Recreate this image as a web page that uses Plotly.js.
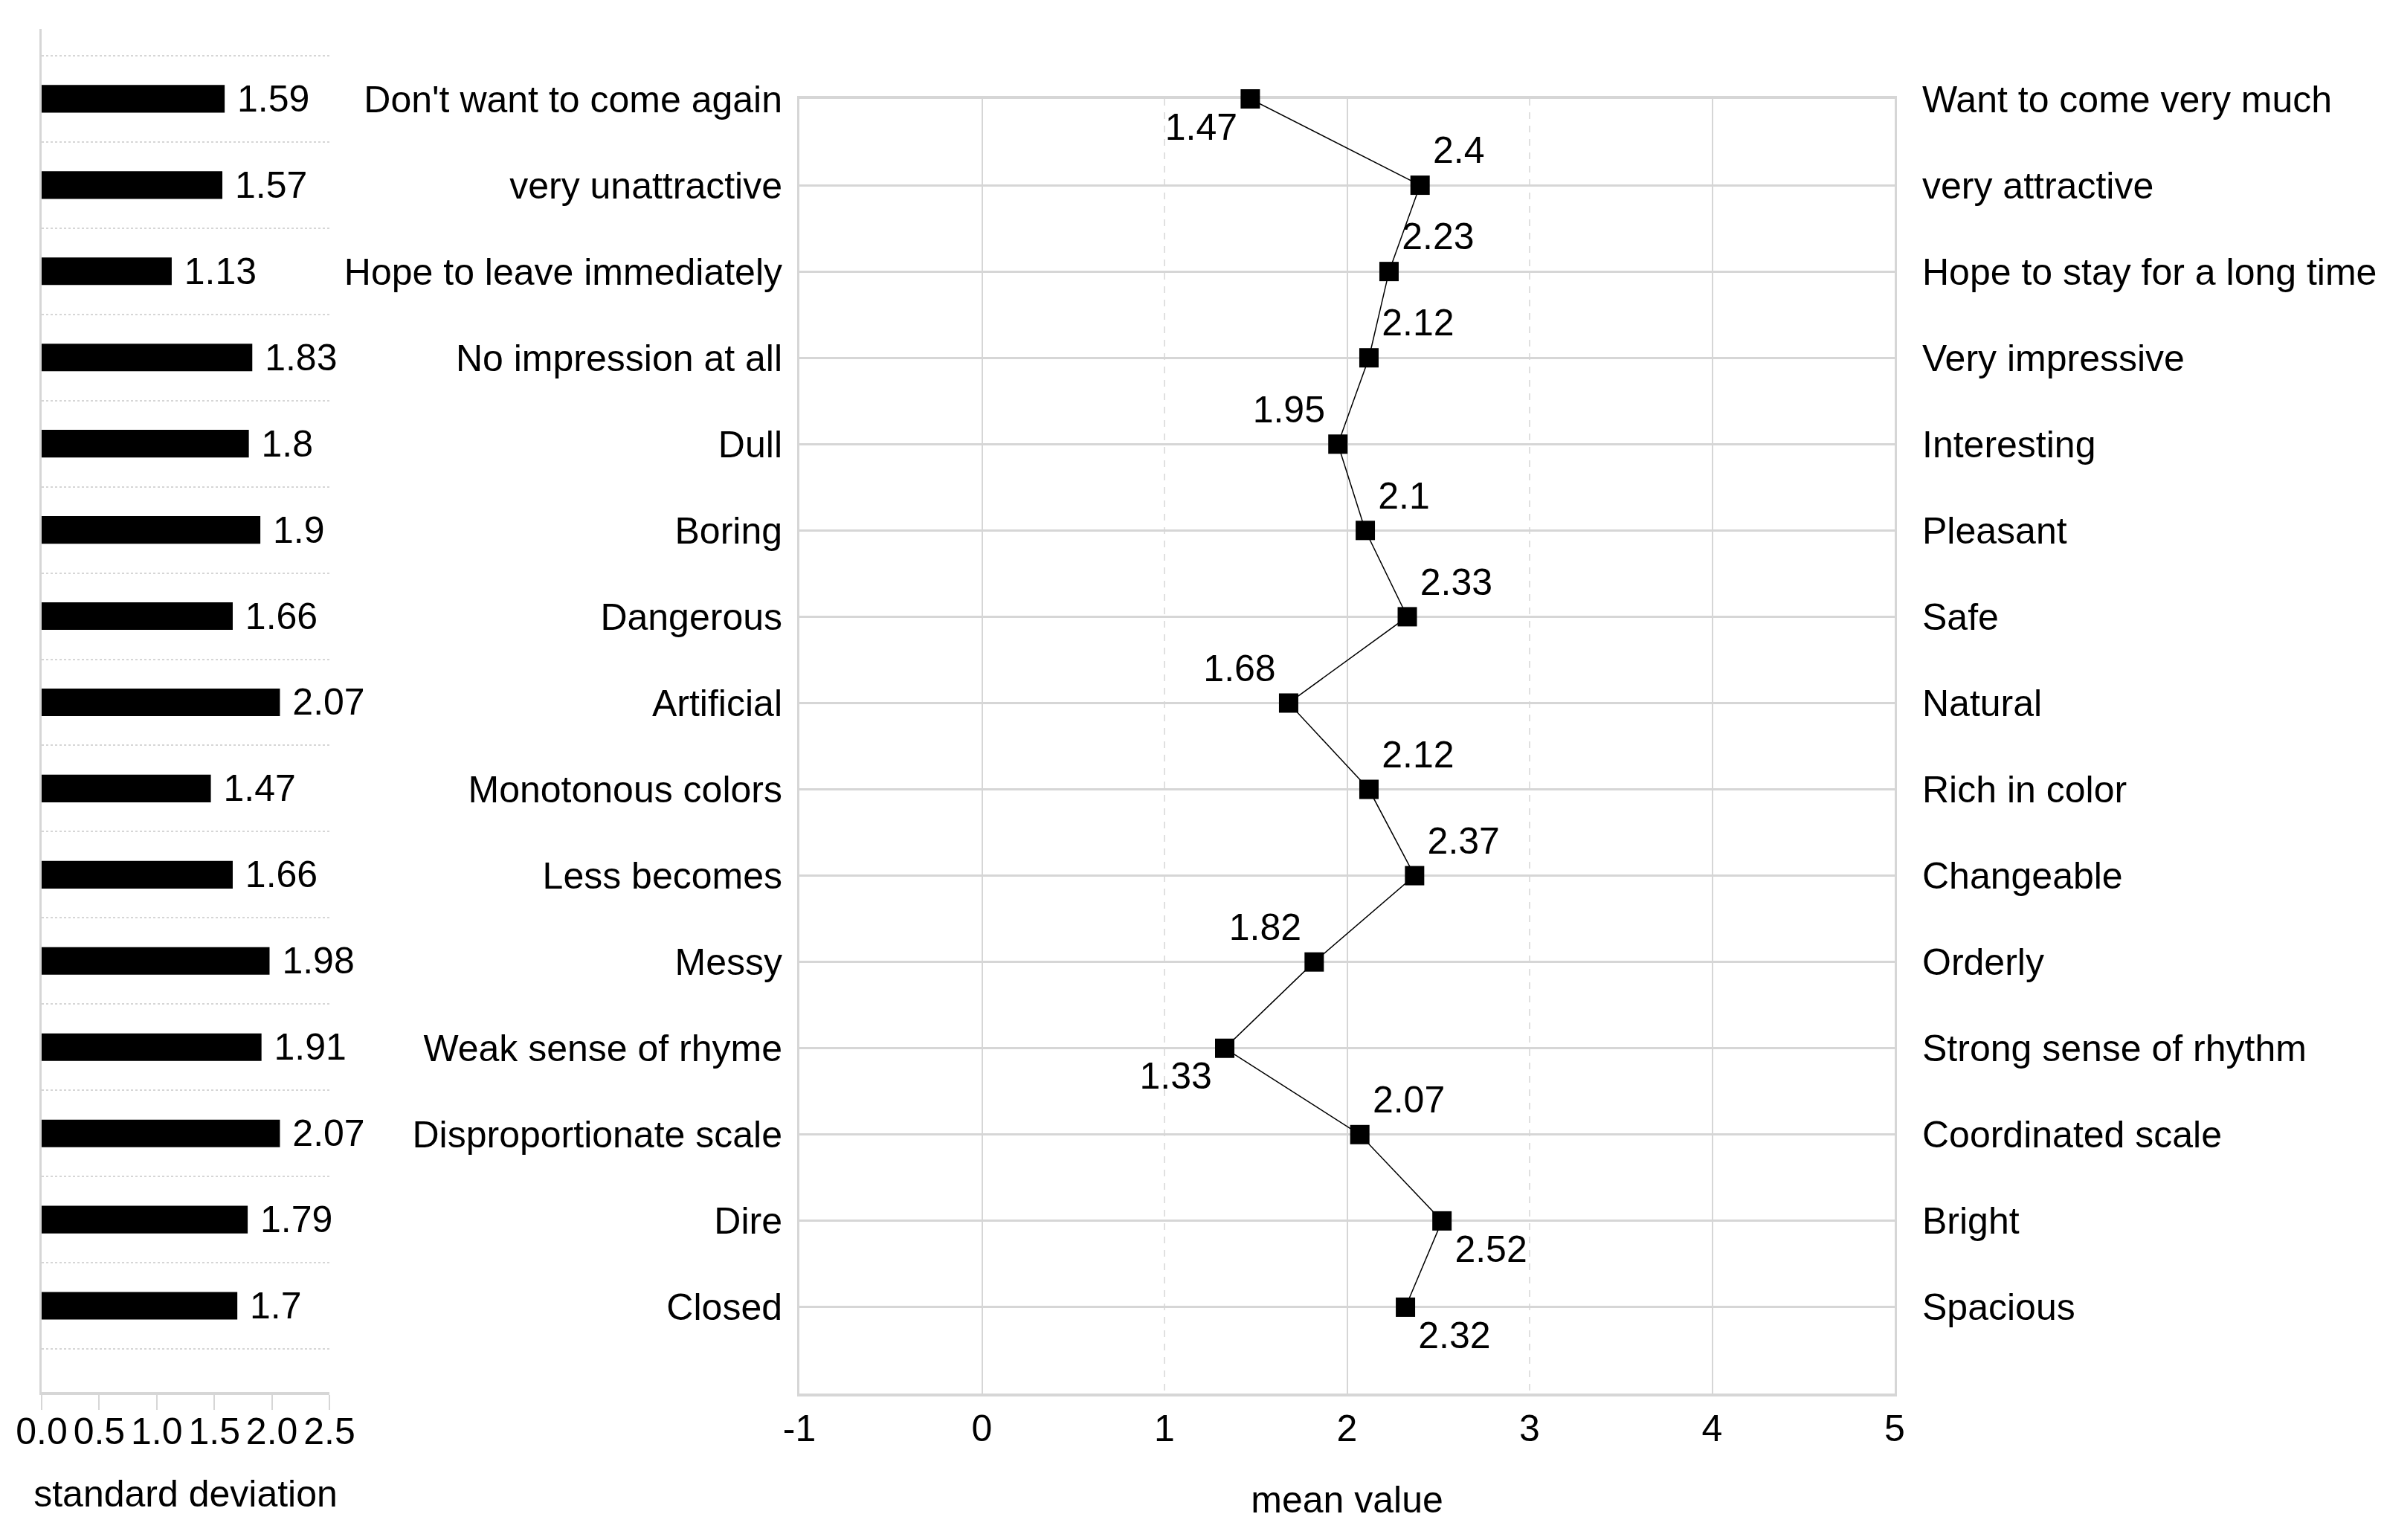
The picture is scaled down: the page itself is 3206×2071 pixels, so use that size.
<!DOCTYPE html>
<html>
<head>
<meta charset="utf-8">
<script src="https://cdn.plot.ly/plotly-3.0.1.min.js"></script>
<style>html,body{margin:0;padding:0;background:#fff;}#chart{width:3206px;height:2071px;}</style>
</head>
<body>
<div id="chart"></div>
<script>
// ---- data ----
const negativeLabels = ["Don't want to come again","very unattractive","Hope to leave immediately","No impression at all","Dull","Boring","Dangerous","Artificial","Monotonous colors","Less becomes","Messy","Weak sense of rhyme","Disproportionate scale","Dire","Closed"];
const positiveLabels = ["Want to come very much","very attractive","Hope to stay for a long time","Very impressive","Interesting","Pleasant","Safe","Natural","Rich in color","Changeable","Orderly","Strong sense of rhythm","Coordinated scale","Bright","Spacious"];
const stdDev = [1.59,1.57,1.13,1.83,1.8,1.9,1.66,2.07,1.47,1.66,1.98,1.91,2.07,1.79,1.7];
const meanValue = [1.47,2.4,2.23,2.12,1.95,2.1,2.33,1.68,2.12,2.37,1.82,1.33,2.07,2.52,2.32];
const meanTicks = [-1,0,1,2,3,4,5];
const stdTicks = ['0.0','0.5','1.0','1.5','2.0','2.5'];
const labelPositions = ['bottom left','top right','top right','top right','top left','top right','top right','top left','top right','top right','top left','bottom left','top right','bottom right','bottom right'];

const idx = negativeLabels.map((_, i) => i);
const FONT = 'Liberation Sans, Arial, sans-serif';
const GRID = '#d6d6d6';
const W = 3206, H = 2071;

const traces = [
  {
    type: 'bar', orientation: 'h', x: stdDev, y: idx, xaxis: 'x2', yaxis: 'y2',
    marker: {color: '#000'}, width: 0.32,
    text: stdDev.map(v => '\u00a0' + String(v)), textposition: 'outside',
    textfont: {family: FONT, size: 50, color: '#000'}, cliponaxis: false,
    constraintext: 'none', hoverinfo: 'skip'
  },
  {
    type: 'scatter', mode: 'lines+markers+text', x: meanValue, y: idx, xaxis: 'x', yaxis: 'y',
    line: {color: '#000', width: 1.5},
    marker: {symbol: 'square', size: 26, color: '#000'},
    text: meanValue.map(String), textposition: labelPositions,
    textfont: {family: FONT, size: 50, color: '#000'}, cliponaxis: false, hoverinfo: 'skip'
  },
  {type: 'scatter', mode: 'none', x: meanValue, y: idx, xaxis: 'x3', yaxis: 'y', hoverinfo: 'skip'},
  {type: 'scatter', mode: 'none', x: meanValue, y: idx, xaxis: 'x', yaxis: 'y3', hoverinfo: 'skip'}
];

const tickFont = {family: FONT, size: 50, color: '#000'};
const layout = {
  width: W, height: H, margin: {l: 0, r: 0, t: 0, b: 0},
  paper_bgcolor: '#fff', plot_bgcolor: 'rgba(0,0,0,0)', showlegend: false,
  font: {family: FONT, size: 50, color: '#000'},
  // mean chart
  xaxis: {
    domain: [1075 / W, 2548 / W], range: [-1, 5], tickmode: 'array', tickvals: meanTicks, ticktext: meanTicks.map(String),
    showgrid: false, zeroline: false, showline: true, mirror: true, linecolor: GRID, linewidth: 4, layer: 'below traces',
    ticks: '', ticklabelstandoff: 0, tickfont: tickFont, anchor: 'y',
    title: {text: 'mean value', font: {family: FONT, size: 50, color: '#000'}, standoff: 52}
  },
  xaxis3: {
    overlaying: 'x', range: [-1, 5], tickmode: 'linear', tick0: 0, dtick: 2, showticklabels: false,
    showgrid: true, gridcolor: GRID, gridwidth: 2, zeroline: false, showline: false, ticks: '', anchor: 'y',
    minor: {tickmode: 'linear', tick0: 0, dtick: 1, showgrid: true, griddash: 'dash', gridcolor: '#e0e0e0', gridwidth: 2, ticks: ''}
  },
  yaxis: {
    domain: [(H - 1874) / H, (H - 133) / H], range: [15, 0], tickmode: 'array', tickvals: idx, ticktext: negativeLabels,
    showgrid: true, gridcolor: GRID, gridwidth: 3, zeroline: false, showline: true, mirror: true, layer: 'below traces',
    linecolor: GRID, linewidth: 3, ticks: '', ticklabelstandoff: 10, tickfont: tickFont, anchor: 'x'
  },
  yaxis3: {
    overlaying: 'y', side: 'right', range: [15, 0], tickmode: 'array', tickvals: idx, ticktext: positiveLabels,
    showgrid: false, zeroline: false, showline: false, ticks: '', ticklabelstandoff: 36, tickfont: tickFont, anchor: 'x'
  },
  // std-dev chart
  xaxis2: {
    domain: [56 / W, 443 / W], range: [0, 2.5], tickmode: 'array', tickvals: stdTicks.map(Number), ticktext: stdTicks,
    ticks: 'outside', ticklen: 20, tickwidth: 2, tickcolor: GRID, showline: true, linecolor: GRID, linewidth: 4,
    showgrid: false, zeroline: false, tickfont: tickFont, anchor: 'y2', ticklabelstandoff: -14,
    title: {text: 'standard deviation', font: {family: FONT, size: 50, color: '#000'}, standoff: 40}
  },
  yaxis2: {
    domain: [(H - 1872) / H, (H - 39) / H], range: [15, -0.81], tickmode: 'linear', tick0: -0.5, dtick: 1,
    showticklabels: false, showgrid: true, griddash: 'dot', gridcolor: GRID, gridwidth: 2,
    showline: true, linecolor: GRID, linewidth: 3, ticks: '', zeroline: false, anchor: 'x2'
  }
};

Plotly.newPlot('chart', traces, layout, {staticPlot: true});
</script>
</body>
</html>
